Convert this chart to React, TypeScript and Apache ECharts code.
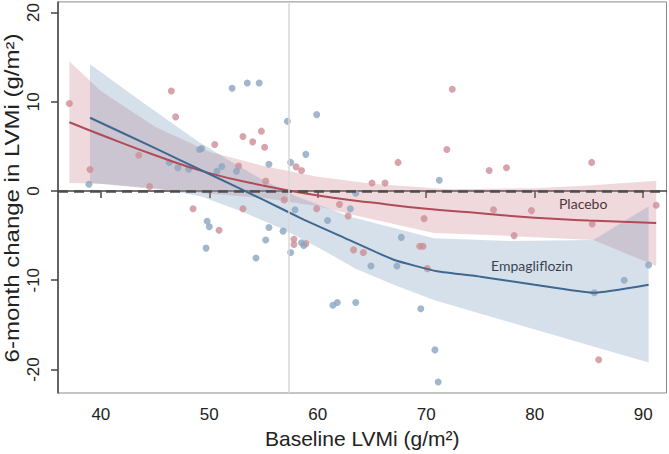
import React, { useEffect, useRef } from "react";
import * as echarts from "echarts";

const xTicks = [40, 50, 60, 70, 80, 90];
const yTicks = [-20, -10, 0, 10, 20];

const placeboPoints: number[][] = [
  [37.1, 9.8], [39.0, 2.4], [43.5, 4.0], [44.5, 0.5], [46.5, 11.2], [46.9, 8.3], [48.5, -2.0],
  [50.5, 5.2], [50.9, -4.4], [52.7, 2.8], [53.1, 6.1], [53.1, -2.0], [54.0, 5.5], [54.8, 6.7],
  [55.1, 4.9], [55.2, 1.1], [56.9, -1.0], [57.8, -5.4], [57.8, -6.0], [58.0, 2.7], [58.5, 2.3],
  [58.9, -5.9], [59.9, -2.0], [62.0, -1.5], [62.8, -2.8], [63.3, -6.6], [64.2, -6.9], [65.0, 0.9],
  [66.2, 0.9], [67.4, 3.2], [69.4, -6.2], [69.7, -6.2], [69.8, -3.1], [70.1, -8.7], [71.9, 4.65],
  [72.4, 11.4], [75.8, 2.3], [76.2, -2.1], [77.4, 2.6], [78.1, -5.0], [79.7, -2.2], [85.25, 3.2],
  [85.3, -3.7], [85.9, -18.9], [91.2, -1.6],
];

const empaPoints: number[][] = [
  [38.9, 0.75], [46.3, 3.2], [47.1, 2.6], [48.1, 2.45], [49.1, 4.65], [49.3, 4.75], [49.8, -3.4],
  [50.0, -4.0], [49.7, -6.4], [50.7, 2.2], [51.15, 2.75], [52.1, 11.5], [52.5, 2.2], [53.5, 12.1],
  [54.3, -7.5], [54.6, 12.1], [55.2, -5.5], [55.5, 3.0], [55.5, -4.1], [56.8, -4.5], [57.2, 7.8],
  [57.5, 3.2], [57.5, -6.9], [57.9, -2.1], [58.5, -5.8], [58.7, -6.1], [58.9, 4.1], [59.9, 8.55],
  [60.9, -3.3], [61.4, -12.8], [61.8, -12.5], [63.0, -2.0], [63.5, -0.25], [63.5, -12.5],
  [64.9, -8.4], [67.3, -8.4], [67.7, -5.2], [69.5, -13.2], [70.8, -17.8], [71.1, -21.4],
  [71.2, 1.2], [85.5, -11.4], [88.25, -10.0], [90.5, -8.3],
];

const placeboFit: number[][] = [
  [37.1, 7.7], [40, 6.3], [45, 4.0], [50, 2.0], [55, 0.6], [60, -0.5], [65, -1.3],
  [70, -2.0], [75, -2.5], [80, -3.0], [85, -3.3], [91.2, -3.6],
];
const placeboUpper: number[][] = [
  [37.1, 14.5], [40, 11.2], [45, 7.2], [50, 4.4], [55, 2.8], [60, 1.6], [65, 0.8],
  [72, 0.2], [80, 0.3], [85, 0.6], [91.2, 1.15],
];
const placeboLower: number[][] = [
  [37.1, 0.9], [40, 0.8], [45, 0.2], [50, -0.3], [55, -0.8], [60, -1.7], [63, -2.6],
  [70.7, -4.7], [77, -5.0], [85.4, -5.5], [91.2, -8.4],
];

const empaFit: number[][] = [
  [39, 8.2], [45, 4.8], [50, 1.9], [55, -1.0], [58.7, -3.2], [62, -5.0], [67, -7.7],
  [71, -9.0], [75, -9.6], [80, -10.5], [85.4, -11.4], [90.5, -10.5],
];
const empaUpper: number[][] = [
  [39, 14.2], [44, 9.8], [49, 5.5], [52, 3.3], [55, 1.2], [58, -0.6], [63, -2.9],
  [70.7, -5.3], [77.7, -5.6], [85.4, -5.5], [90.5, -1.7],
];
const empaLower: number[][] = [
  [39, 0.9], [45, 0.3], [49.2, -0.6], [53, -2.3], [56.8, -4.3], [60, -6.3], [63.5, -8.7],
  [67, -10.5], [70.7, -12.2], [77.7, -14.7], [90.5, -19.2],
];

const baselineMean = 57.3;

function band(upper: number[][], lower: number[][], color: string, z: number) {
  return {
    type: "custom",
    silent: true,
    z,
    data: [[60, 0]],
    renderItem: (_params: any, api: any) => {
      const pts = [
        ...upper.map((p) => api.coord(p)),
        ...lower.slice().reverse().map((p) => api.coord(p)),
      ];
      return { type: "polygon", shape: { points: pts }, style: { fill: color } };
    },
  };
}

export default function App() {
  const ref = useRef<HTMLDivElement>(null);
  useEffect(() => {
    if (!ref.current) return;
    const chart = echarts.init(ref.current, undefined, { renderer: "svg" });
    const font = "Liberation Sans";
    chart.setOption({
      animation: false,
      grid: { left: 58, right: 2.5, top: 1, bottom: 60, show: true, borderColor: "#8a8a8a", borderWidth: 1 },
      xAxis: {
        type: "value",
        min: 36.05,
        max: 92.15,
        name: "Baseline LVMi (g/m²)",
        nameLocation: "middle",
        nameGap: 35,
        nameTextStyle: { fontFamily: font, fontSize: 21, color: "#222" },
        axisLine: { show: true, lineStyle: { color: "#444", width: 1.5 } },
        axisTick: { show: true, length: 7, customValues: xTicks, lineStyle: { color: "#444", width: 1.5 } },
        axisLabel: { customValues: xTicks, fontFamily: font, fontSize: 17, color: "#222", margin: 13 },
        splitLine: { show: false },
      },
      yAxis: {
        type: "value",
        min: -22.63,
        max: 21.18,
        axisLine: { show: true, lineStyle: { color: "#444", width: 1.5 } },
        axisTick: { show: true, length: 7, customValues: yTicks, lineStyle: { color: "#444", width: 1.5 } },
        axisLabel: { customValues: yTicks, rotate: 90, fontFamily: font, fontSize: 17, color: "#222", margin: 16 },
        splitLine: { show: false },
      },
      series: [
        band(placeboUpper, placeboLower, "rgba(196,120,130,0.28)", 1),
        band(empaUpper, empaLower, "rgba(120,152,188,0.30)", 2),
        {
          type: "scatter",
          z: 3,
          data: placeboPoints,
          symbolSize: 7,
          itemStyle: { color: "#cc8d95" },
          silent: true,
        },
        {
          type: "scatter",
          z: 3,
          data: empaPoints,
          symbolSize: 7,
          itemStyle: { color: "#8ca5bf" },
          silent: true,
        },
        {
          type: "line",
          z: 4,
          data: placeboFit,
          smooth: true,
          showSymbol: false,
          lineStyle: { color: "#b04b57", width: 2 },
          markLine: {
            silent: true,
            symbol: "none",
            label: { show: false },
            data: [
              { yAxis: 0, lineStyle: { color: "#4d4d4d", width: 2.5, type: [10, 6] } },
              { xAxis: baselineMean, lineStyle: { color: "#d9d9d9", width: 1.5, type: "solid" } },
            ],
          },
        },
        {
          type: "line",
          z: 4,
          data: empaFit,
          smooth: 0.15,
          showSymbol: false,
          lineStyle: { color: "#3f6890", width: 2 },
        },
      ],
      graphic: [
        {
          type: "text",
          x: 12,
          y: 198,
          rotation: Math.PI / 2,
          scaleX: 1.2,
          style: {
            text: "6-month change in LVMi (g/m²)",
            fontFamily: font,
            fontSize: 20,
            fill: "#222",
            align: "center",
            verticalAlign: "middle",
          },
        },
        {
          type: "text",
          left: 559,
          top: 196,
          style: { text: "Placebo", fontFamily: "Lato", fontSize: 14, fill: "#1a1a1a" },
        },
        {
          type: "text",
          left: 491,
          top: 258,
          style: { text: "Empagliflozin", fontFamily: "Lato", fontSize: 14, fill: "#1a1a1a" },
        },
      ],
    });
    return () => chart.dispose();
  }, []);
  return <div ref={ref} style={{ position: "fixed", left: 0, top: 0, width: 669, height: 454, background: "#fff" }} />;
}
